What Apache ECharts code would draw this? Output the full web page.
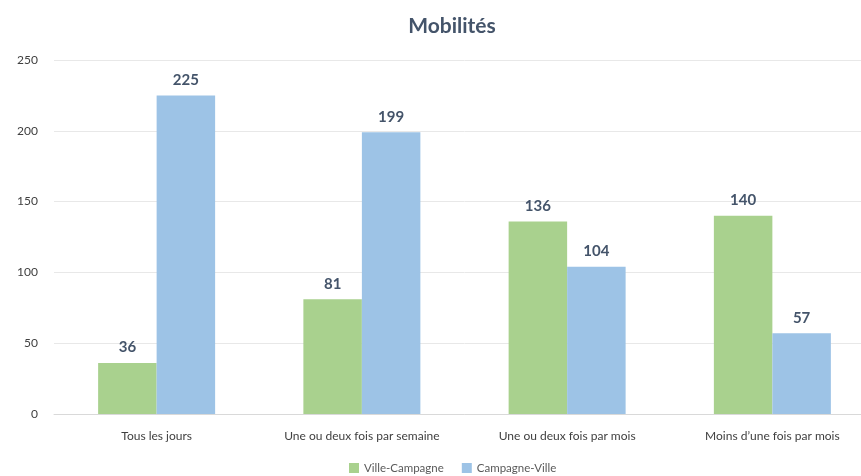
<!DOCTYPE html>
<html>
<head>
<meta charset="utf-8">
<script src="https://cdn.jsdelivr.net/npm/echarts@6/dist/echarts.min.js"></script>
<style>
  html, body { margin: 0; padding: 0; background: #ffffff; overflow: hidden; }
  /* canvas is a little wider than the window so the plot runs past the right edge */
  #chart { width: 880px; height: 476px; }
</style>
</head>
<body>
<div id="chart"></div>
<script>
// Frequency categories and counts per travel direction
const categories = ['Tous les jours', 'Une ou deux fois par semaine', 'Une ou deux fois par mois', 'Moins d\u2019une fois par mois'];
const villeCampagne = [36, 81, 136, 140];
const campagneVille = [225, 199, 104, 57];
const yTicks = { min: 0, max: 250, interval: 50 };

const chart = echarts.init(document.getElementById('chart'));
const labelStyle = {
  show: true,
  position: 'top',
  distance: 8,
  color: '#44546a',
  fontFamily: 'Lato',
  fontWeight: 'bold',
  fontSize: 15
};

chart.setOption({
  animation: false,
  title: {
    text: 'Mobilités',
    left: 447,
    textAlign: 'center',
    top: 11,
    textStyle: { fontFamily: 'Lato', fontWeight: 'bold', fontSize: 21, color: '#44546a' }
  },
  legend: {
    top: 457,
    left: 344,
    itemWidth: 10,
    itemHeight: 10,
    itemGap: 18,
    icon: 'rect',
    textStyle: { fontFamily: 'Lato', fontSize: 11.5, color: '#595959' }
  },
  grid: { left: 54, right: 5, top: 60, bottom: 62, containLabel: false },
  xAxis: {
    type: 'category',
    data: categories,
    axisLine: { lineStyle: { color: '#d9d9d9' } },
    axisTick: { show: false },
    axisLabel: { interval: 0, fontFamily: 'Lato', fontSize: 12, color: '#404040', margin: 16 }
  },
  yAxis: {
    type: 'value',
    min: yTicks.min,
    max: yTicks.max,
    interval: yTicks.interval,
    axisLine: { show: false },
    axisTick: { show: false },
    splitLine: { lineStyle: { color: '#e8e8e8' } },
    axisLabel: { fontFamily: 'Lato', fontSize: 12, color: '#404040', margin: 16 }
  },
  series: [
    {
      name: 'Ville-Campagne',
      type: 'bar',
      data: villeCampagne,
      barGap: '0%',
      barCategoryGap: '43%',
      itemStyle: { color: '#a9d18e' },
      label: labelStyle
    },
    {
      name: 'Campagne-Ville',
      type: 'bar',
      data: campagneVille,
      itemStyle: { color: '#9dc3e6' },
      label: labelStyle
    }
  ]
});
</script>
</body>
</html>
